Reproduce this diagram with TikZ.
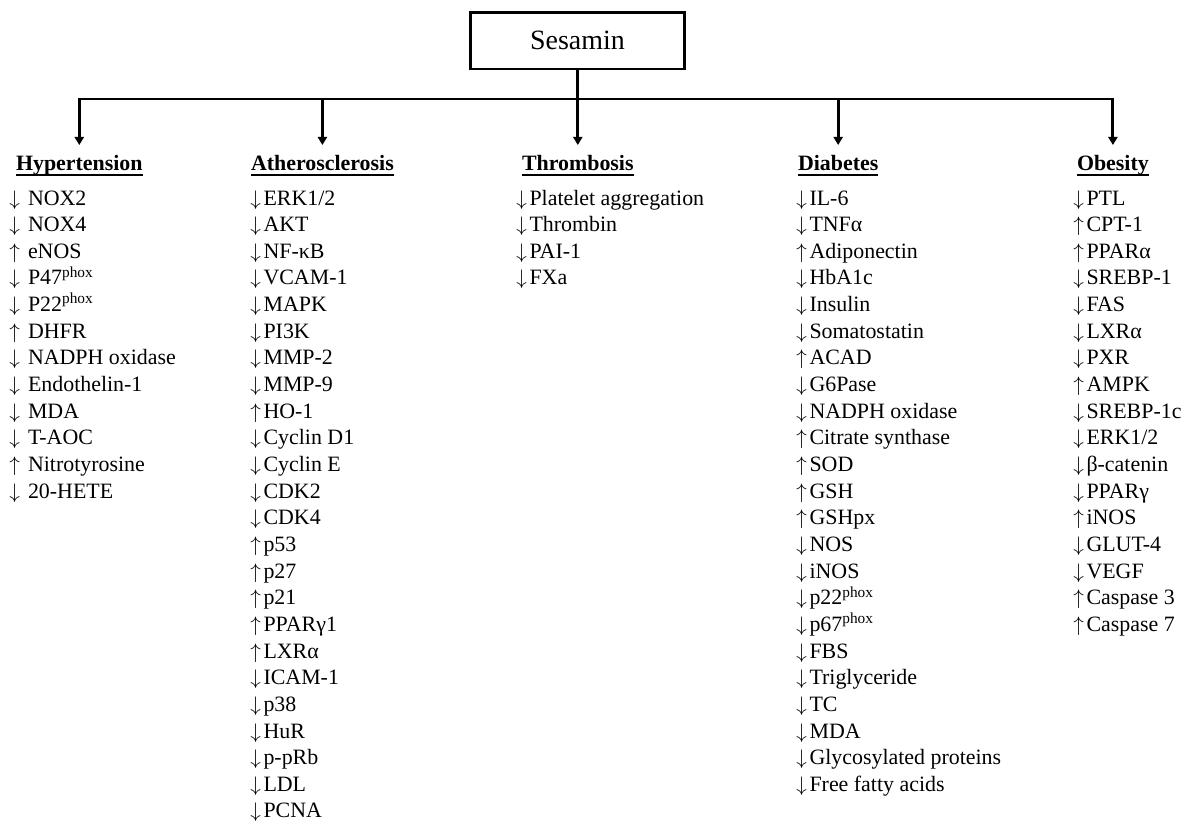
\documentclass[tikz,border=0pt]{standalone}
\usepackage{fontspec}
\setmainfont{Liberation Serif}
\usetikzlibrary{arrows.meta}

\newcommand\dnar{$\downarrow$\kern1.5pt}
\newcommand\upar{$\uparrow$\kern1.5pt}

\tikzset{
  conn/.style={line width=1.7pt},
  arr/.style={conn, -{Triangle[length=4.6pt,width=5.2pt]}},
  head/.style={anchor=base west, inner sep=0pt, outer xsep=0pt, outer ysep=0.2cm,
    text height=0.3cm, font=\fontsize{12.47}{15}\selectfont\bfseries},
  item/.style={anchor=base west, inner sep=0pt, font=\fontsize{12.47}{15}\selectfont},
  uline/.style={line width=1.1pt},
}

\begin{document}
\begin{tikzpicture}[x=0.02cm, y=-0.02cm]
\useasboundingbox (0,0) rectangle (1184,822);

\def\yh{170}
\def\yi{205}
\def\dy{26.65}
\def\yb{99}

\def\xhyp{16}
\def\xath{251}
\def\xthr{522}
\def\xdia{798}
\def\xobe{1077}

\node[draw, line width=1.7pt, minimum width=4.3cm, minimum height=1.14cm, inner sep=0pt,
  font=\fontsize{15.9}{18}\selectfont] (ses) at (577.5,40.5) {Sesamin};

\node[head] (hyp) at (\xhyp,\yh) {Hypertension};
\node[head] (ath) at (\xath,\yh) {Atherosclerosis};
\node[head] (thr) at (\xthr,\yh) {Thrombosis};
\node[head] (dia) at (\xdia,\yh) {Diabetes};
\node[head] (obe) at (\xobe,\yh) {Obesity};

\foreach \n in {hyp,ath,thr,dia,obe}
  \draw[uline] ([yshift=-0.1cm]\n.base west) -- ([yshift=-0.1cm]\n.base east);

\coordinate (bar) at (578,\yb);
\draw[conn] (ses.south) -- (ses.south |- bar);
\draw[conn, line cap=rect] (hyp.north |- bar) -- (obe.north |- bar);
\foreach \n in {hyp,ath,thr,dia,obe}
  \draw[arr] (\n.north |- bar) -- (\n.north);

\foreach \t [count=\i from 0] in {\dnar{} NOX2, \dnar{} NOX4, \upar{} eNOS,
  \dnar{} P47\textsuperscript{phox}, \dnar{} P22\textsuperscript{phox}, \upar{} DHFR,
  \dnar{} NADPH oxidase, \dnar{} Endothelin-1, \dnar{} MDA, \dnar{} T-AOC,
  \upar{} Nitrotyrosine, \dnar{} 20-HETE}
  \node[item] (hyp-\i) at (\xhyp-7, {\yi+\i*\dy}) {\t};

\foreach \t [count=\i from 0] in {\dnar ERK1/2, \dnar AKT, \dnar NF-κB, \dnar VCAM-1,
  \dnar MAPK, \dnar PI3K, \dnar MMP-2, \dnar MMP-9, \upar HO-1, \dnar Cyclin D1,
  \dnar Cyclin E, \dnar CDK2, \dnar CDK4, \upar p53, \upar p27, \upar p21,
  \upar PPARγ1, \upar LXRα, \dnar ICAM-1, \dnar p38, \dnar HuR, \dnar p-pRb,
  \dnar LDL, \dnar PCNA}
  \node[item] (ath-\i) at (\xath-1, {\yi+\i*\dy}) {\t};

\foreach \t [count=\i from 0] in {\dnar Platelet aggregation, \dnar Thrombin,
  \dnar PAI-1, \dnar FXa}
  \node[item] (thr-\i) at (\xthr-6, {\yi+\i*\dy}) {\t};

\foreach \t [count=\i from 0] in {\dnar IL-6, \dnar TNFα, \upar Adiponectin,
  \dnar HbA1c, \dnar Insulin, \dnar Somatostatin, \upar ACAD, \dnar G6Pase,
  \dnar NADPH oxidase, \upar Citrate synthase, \upar SOD, \upar GSH, \upar GSHpx,
  \dnar NOS, \dnar iNOS, \dnar p22\textsuperscript{phox}, \dnar p67\textsuperscript{phox},
  \dnar FBS, \dnar Triglyceride, \dnar TC, \dnar MDA, \dnar Glycosylated proteins,
  \dnar Free fatty acids}
  \node[item] (dia-\i) at (\xdia-2, {\yi+\i*\dy}) {\t};

\foreach \t [count=\i from 0] in {\dnar PTL, \upar CPT-1, \upar PPARα, \dnar SREBP-1,
  \dnar FAS, \dnar LXRα, \dnar PXR, \upar AMPK, \dnar SREBP-1c, \dnar ERK1/2,
  \dnar β-catenin, \dnar PPARγ, \upar iNOS, \dnar GLUT-4, \dnar VEGF,
  \upar Caspase 3, \upar Caspase 7}
  \node[item] (obe-\i) at (\xobe-4, {\yi+\i*\dy}) {\t};

\end{tikzpicture}
\end{document}
